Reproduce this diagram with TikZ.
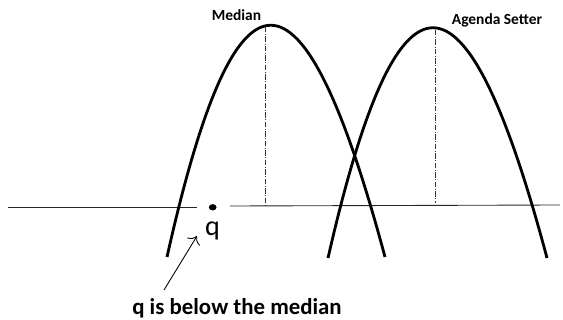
\documentclass[tikz,border=0pt]{standalone}
\usepackage{fontspec}
\setmainfont{Carlito}
\usepackage{xcolor}
\usepackage{tikz}
\usetikzlibrary{arrows.meta}

\begin{document}
\begin{tikzpicture}[x=0.02cm, y=-0.02cm,
	curva/.style={line width=1.6pt, black},
	guia/.style={densely dashdotted, line width=0.5pt, black!80},
	eje/.style={line width=0.5pt, black!85}]
	\useasboundingbox (0,0) rectangle (563,320);

	% Eje horizontal (cortado alrededor del punto q)
	\coordinate (ejeA) at (8,207);
	\coordinate (ejeB) at (197,207);
	\coordinate (ejeC) at (230,206);
	\coordinate (ejeD) at (560,205);
	\draw[eje] (ejeA) -- (ejeB);
	\draw[eje] (ejeC) -- (ejeD);

	% Preferencias del votante mediano
	\coordinate (medIzq) at (167,257);
	\coordinate (medDer) at (385,257);
	\draw[curva] (medIzq) .. controls (236,-52) and (302,-52) .. (medDer);
	\coordinate (medTop) at (265,27);
	\coordinate (medBase) at (265,205);
	\draw[guia] (medTop) -- (medBase);
	\node[font=\bfseries\fontsize{8.8}{10}\selectfont] (median) at (236.5,15) {Median};

	% Preferencias del agenda setter
	\coordinate (agIzq) at (328,258);
	\coordinate (agDer) at (547,258);
	\draw[curva] (agIzq) .. controls (398,-49) and (465,-49) .. (agDer);
	\coordinate (agTop) at (435,30);
	\coordinate (agBase) at (435,203);
	\draw[guia] (agTop) -- (agBase);
	\node[font=\bfseries\fontsize{8.8}{10}\selectfont] (setter) at (497,20.5) {Agenda Setter};

	% Punto q
	\fill (212.7,207.3) ellipse (2.2pt and 1.8pt);
	\node[font=\fontsize{16}{18}\selectfont, inner sep=0pt] (qlab) at (212.5,231) {q};

	% Nota con flecha
	\node[font=\bfseries\fontsize{13}{15}\selectfont] (nota) at (237,308) {q is below the median};
	\coordinate (flechaCola) at (164,290);
	\coordinate (flechaPunta) at (197,236);
	\draw[-{To[length=4pt]}, line width=0.5pt] (flechaCola) -- (flechaPunta);
\end{tikzpicture}
\end{document}
